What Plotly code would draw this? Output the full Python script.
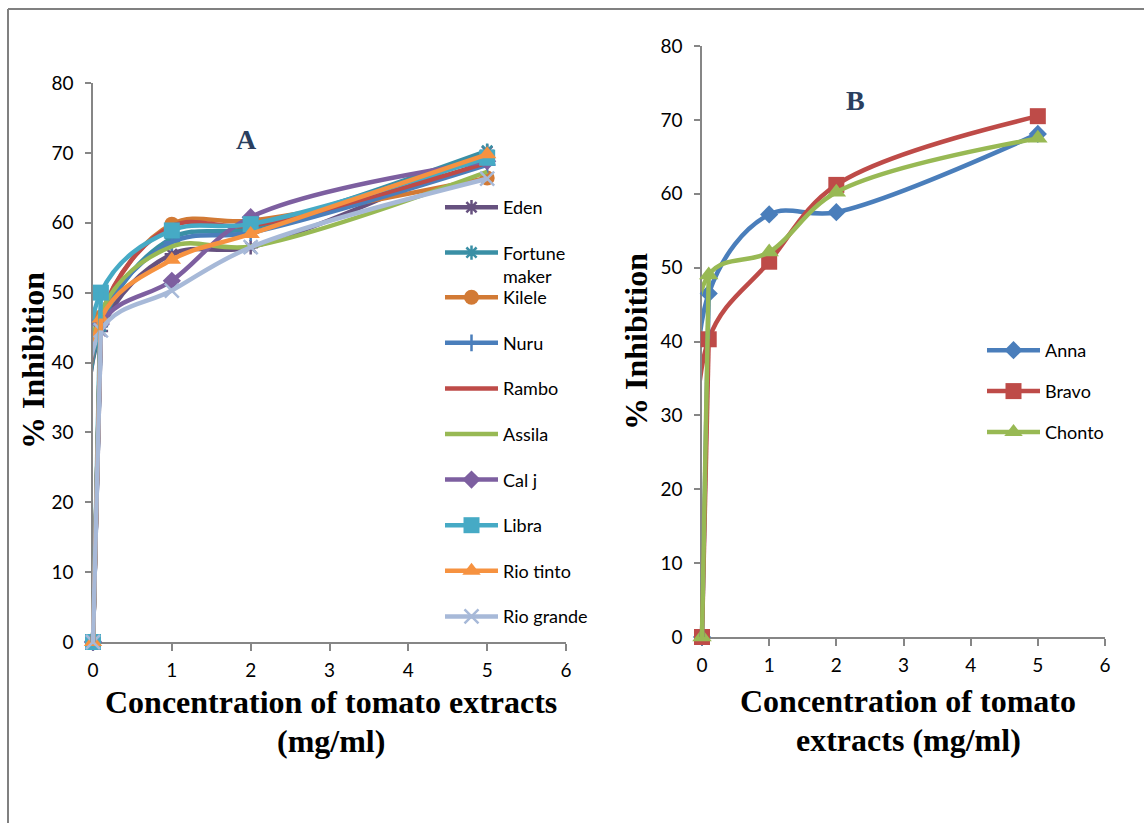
import plotly.graph_objects as go

# Concentrations (mg/ml)
conc = [0, 0.1, 1, 2, 5]

# Panel A: % inhibition per tomato variety
varieties_a = ["Eden", "Fortune<br>maker", "Kilele", "Nuru", "Rambo",
               "Assila", "Cal j", "Libra", "Rio tinto", "Rio grande"]
eden = [0, 44.5, 55.5, 56.5, 70.2]
fortune_maker = [0, 45.2, 57.8, 59.2, 70.3]
kilele = [0, 46.5, 59.8, 60.3, 66.4]
nuru = [0, 46.0, 57.2, 58.6, 68.3]
rambo = [0, 46.8, 59.5, 59.6, 68.6]
assila = [0, 47.2, 56.6, 56.6, 67.3]
cal_j = [0, 45.5, 51.7, 60.8, 68.8]
libra = [0, 50.0, 58.9, 59.8, 69.3]
rio_tinto = [0, 46.3, 54.7, 58.4, 69.8]
rio_grande = [0, 44.6, 50.3, 56.5, 66.3]
values_a = [eden, fortune_maker, kilele, nuru, rambo,
            assila, cal_j, libra, rio_tinto, rio_grande]

# Panel B
varieties_b = ["Anna", "Bravo", "Chonto"]
anna = [0, 46.5, 57.2, 57.5, 68.1]
bravo = [0, 40.3, 50.8, 61.2, 70.5]
chonto = [0, 49.0, 52.1, 60.2, 67.5]
values_b = [anna, bravo, chonto]

y_ticks = [0, 10, 20, 30, 40, 50, 60, 70, 80]
x_ticks = [0, 1, 2, 3, 4, 5, 6]

colors_a = ["#66517F", "#3A8FA5", "#D27A35", "#4A7EBB", "#BE4B48",
            "#98B954", "#7D5FA0", "#46AAC5", "#F69240", "#A7B9D8"]
symbols_a = ["asterisk-open", "asterisk-open", "circle", "cross-thin-open", None,
             None, "diamond", "square", "triangle-up", "x-thin-open"]
sizes_a = [12, 12, 15, 12, 0, 0, 14, 16, 16, 14]
# first two varieties sit in their own legend box so the wrapped name keeps spacing
legend_of_a = ["legend", "legend", "legend3", "legend3", "legend3",
               "legend3", "legend3", "legend3", "legend3", "legend3"]

colors_b = ["#4A7EBB", "#BE4B48", "#98B954"]
symbols_b = ["diamond", "square", "triangle-up"]
sizes_b = [14, 16, 17]

W, H = 1144, 823
PAD = 0.08  # extra room left of x = 0 for the straight rise segments


def px_x(p):
    return p / W


def px_y(p):
    return 1 - p / H


fig = go.Figure()


def add_series(name, ys, col, sym, sz, axes, rise_axes, leg):
    mode = "lines+markers" if sym else "lines"
    open_sym = bool(sym) and "open" in sym
    marker = dict(color=col, size=sz, symbol=sym or "circle",
                  line=dict(color=col, width=2.5 if open_sym else 0))
    # smoothed curve through all doses
    fig.add_trace(go.Scatter(
        x=conc, y=ys, name=name, mode=mode, xaxis=axes[0], yaxis=axes[1],
        line=dict(color=col, width=4.5, shape="spline", smoothing=1),
        marker=marker, cliponaxis=False, legend=leg, legendgroup=name))
    # steep rise from the blank to the first dose, drawn straight on a
    # twin subplot that is not cut off at x = 0
    fig.add_trace(go.Scatter(
        x=conc[:2], y=ys[:2], mode="lines", xaxis=rise_axes[0], yaxis=rise_axes[1],
        line=dict(color=col, width=4.5), showlegend=False,
        legend=leg, legendgroup=name, hoverinfo="skip"))


for name, ys, col, sym, sz, leg in zip(varieties_a, values_a, colors_a, symbols_a,
                                        sizes_a, legend_of_a):
    add_series(name, ys, col, sym, sz, ("x", "y"), ("x3", "y3"), leg)

for name, ys, col, sym, sz in zip(varieties_b, values_b, colors_b, symbols_b, sizes_b):
    add_series(name, ys, col, sym, sz, ("x2", "y2"), ("x4", "y4"), "legend2")

axis_gray = "#868686"
tick_font = dict(family="Lato", size=19, color="#000000")


def xaxis(x0_px, x6_px, anchor):
    return dict(domain=[px_x(x0_px), px_x(x6_px)], anchor=anchor,
                range=[0, 6], tickvals=x_ticks,
                showgrid=False, zeroline=False, showline=True, linecolor=axis_gray,
                linewidth=1.5, ticks="outside", ticklen=7, tickcolor=axis_gray,
                tickwidth=1.5, tickfont=tick_font, automargin=False, fixedrange=True,
                ticklabelstandoff=3, layer="below traces")


def yaxis(bottom_px, top_px, anchor):
    return dict(domain=[px_y(bottom_px), px_y(top_px)], anchor=anchor,
                range=[0, 80], tickvals=y_ticks,
                showgrid=False, zeroline=False, showline=True, linecolor=axis_gray,
                linewidth=1.5, ticks="outside", ticklen=6, tickcolor=axis_gray,
                tickwidth=1.5, tickfont=tick_font, automargin=False, fixedrange=True,
                ticklabelstandoff=8, layer="below traces")


def twin_x(x0_px, x6_px, anchor):
    unit = (x6_px - x0_px) / 6
    return dict(domain=[px_x(x0_px - PAD * unit), px_x(x6_px)], anchor=anchor,
                range=[-PAD, 6], visible=False, fixedrange=True)


def twin_y(bottom_px, top_px, anchor):
    return dict(domain=[px_y(bottom_px), px_y(top_px)], anchor=anchor,
                range=[0, 80], visible=False, fixedrange=True)


title_font = dict(family="Liberation Serif", size=32, color="#000000")
annotations = [
    dict(text="<b>A</b>", x=px_x(246), y=px_y(140), font=dict(family="Liberation Serif", size=28)),
    dict(text="<b>B</b>", x=px_x(855), y=px_y(100), font=dict(family="Liberation Serif", size=28)),
    dict(text="<b>Concentration of tomato extracts</b>", x=px_x(331), y=px_y(702), font=title_font),
    dict(text="<b>(mg/ml)</b>", x=px_x(331), y=px_y(741), font=title_font),
    dict(text="<b>Concentration of tomato</b>", x=px_x(908), y=px_y(701), font=title_font),
    dict(text="<b>extracts (mg/ml)</b>", x=px_x(908), y=px_y(740), font=title_font),
    dict(text="<b>% Inhibition</b>", x=px_x(33), y=px_y(361), textangle=-90, font=title_font),
    dict(text="<b>% Inhibition</b>", x=px_x(636), y=px_y(342), textangle=-90, font=title_font),
]
for a in annotations:
    a.update(xref="paper", yref="paper", showarrow=False, xanchor="center", yanchor="middle")

frame = dict(color="#808080", width=2)
shapes = [
    dict(type="line", xref="paper", yref="paper", x0=px_x(8), x1=px_x(8),
         y0=px_y(9), y1=px_y(830), line=frame),
    dict(type="line", xref="paper", yref="paper", x0=px_x(8), x1=px_x(1150),
         y0=px_y(9), y1=px_y(9), line=frame),
]

legend_font = dict(family="Lato", size=18, color="#000000")
legend_common = dict(xanchor="left", yanchor="top", font=legend_font, itemwidth=53,
                     bgcolor="rgba(0,0,0,0)", itemclick=False, itemdoubleclick=False,
                     valign="top")

fig.update_layout(
    width=W, height=H,
    margin=dict(l=0, r=0, t=0, b=0),
    paper_bgcolor="#FFFFFF", plot_bgcolor="rgba(0,0,0,0)",
    xaxis=xaxis(93, 566, "y"),
    yaxis=yaxis(642, 83, "x"),
    xaxis2=xaxis(702, 1105, "y2"),
    yaxis2=yaxis(637, 46, "x2"),
    xaxis3=twin_x(93, 566, "y3"),
    yaxis3=twin_y(642, 83, "x3"),
    xaxis4=twin_x(702, 1105, "y4"),
    yaxis4=twin_y(637, 46, "x4"),
    legend=dict(x=px_x(440), y=px_y(189), tracegroupgap=19, **legend_common),
    legend3=dict(x=px_x(440), y=px_y(279), tracegroupgap=19.2, **legend_common),
    legend2=dict(x=px_x(982), y=px_y(332), tracegroupgap=14.5, **legend_common),
    annotations=annotations,
    shapes=shapes,
    showlegend=True,
)

fig.write_html("out.html")
